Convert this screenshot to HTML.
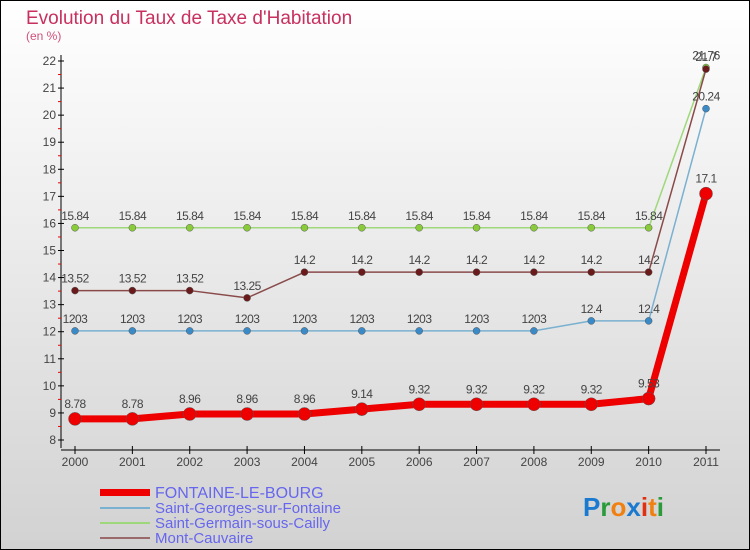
<!DOCTYPE html>
<html><head><meta charset="utf-8"><style>
body{margin:0;}
svg{display:block;font-family:"Liberation Sans",sans-serif;}
</style></head><body>
<svg id="c" width="750" height="550" viewBox="0 0 750 550">
<defs><linearGradient id="bg" x1="0" y1="0" x2="0" y2="1"><stop offset="0" stop-color="#ffffff"/><stop offset="1" stop-color="#d2d2d2"/></linearGradient></defs>
<rect x="0.5" y="0.5" width="749" height="549" fill="url(#bg)" stroke="#000"/>
<text x="26" y="24" font-size="19" fill="#c8305f">Evolution du Taux de Taxe d'Habitation</text>
<text x="26" y="40" font-size="12" fill="#d0507a">(en %)</text>
<g id="axes"></g>
<g id="series"></g>
<g id="legend">
<rect x="100" y="489" width="50" height="7" fill="#e00"/>
<text x="155" y="498" font-size="16" fill="#6666ee">FONTAINE-LE-BOURG</text>
<rect x="100" y="507" width="50" height="2" fill="#7ab0d0"/>
<text x="155" y="513" font-size="15" fill="#6666ee">Saint-Georges-sur-Fontaine</text>
<rect x="100" y="522" width="50" height="2" fill="#9ed87a"/>
<text x="155" y="528" font-size="15" fill="#6666ee">Saint-Germain-sous-Cailly</text>
<rect x="100" y="537" width="50" height="2" fill="#9a6a6a"/>
<text x="155" y="543" font-size="15" fill="#6666ee">Mont-Cauvaire</text>
</g>
<text x="583" y="516" font-size="26" font-weight="bold"><tspan fill="#1a7ad0">P</tspan><tspan fill="#2a9a3a">r</tspan><tspan fill="#f08010">o</tspan><tspan fill="#1a7ad0">x</tspan><tspan fill="#e03010">i</tspan><tspan fill="#f08010">t</tspan><tspan fill="#2a9a3a">i</tspan></text>
</svg>
<script>
const years=[2000,2001,2002,2003,2004,2005,2006,2007,2008,2009,2010,2011];
const yTicks=[8,9,10,11,12,13,14,15,16,17,18,19,20,21,22];
const fontaine=[8.78,8.78,8.96,8.96,8.96,9.14,9.32,9.32,9.32,9.32,9.53,17.1];
const stGeorges=[12.03,12.03,12.03,12.03,12.03,12.03,12.03,12.03,12.03,12.4,12.4,20.24];
const stGermain=[15.84,15.84,15.84,15.84,15.84,15.84,15.84,15.84,15.84,15.84,15.84,21.76];
const montCauvaire=[13.52,13.52,13.52,13.25,14.2,14.2,14.2,14.2,14.2,14.2,14.2,21.7];
const NS="http://www.w3.org/2000/svg";
const X=i=>75+i*(706-75)/11;
const Y=v=>440-(v-8)*(440-61)/14;
function mk(tag,attrs,parent){const e=document.createElementNS(NS,tag);for(const k in attrs)e.setAttribute(k,attrs[k]);parent.appendChild(e);return e;}
const ax=document.getElementById('axes');
let l=mk('line',{x1:61,y1:55,x2:61,y2:448,stroke:'#000'},ax);


l=mk('line',{x1:61,y1:450,x2:720,y2:450,stroke:'#000'},ax);


yTicks.forEach((t,i)=>{
 mk('line',{x1:58,y1:Y(t),x2:64,y2:Y(t),stroke:'#000'},ax);
 if(i<yTicks.length-1) mk('line',{x1:58,y1:Y(t+0.5),x2:61,y2:Y(t+0.5),stroke:'#e00'},ax);
 const tx=mk('text',{x:56,y:Y(t)+4,'font-size':12,fill:'#444','text-anchor':'end'},ax);
 tx.textContent=t;
 
 
});
years.forEach((yr,i)=>{
 mk('line',{x1:X(i),y1:446,x2:X(i),y2:454,stroke:'#000'},ax);
 const tx=mk('text',{x:X(i),y:466,'font-size':12,fill:'#444','text-anchor':'middle'},ax);
 tx.textContent=yr;
 
 
});
const sg=document.getElementById('series');
function series(vals,name,color,w,r,fill,lblDy){
 const g=mk('g',{},sg);
 
 
 const p=mk('polyline',{points:vals.map((v,i)=>X(i)+','+Y(v)).join(' '),fill:'none',stroke:color,'stroke-width':w,'stroke-linejoin':'round'},g);
 
 
 vals.forEach((v,i)=>{
  const c=mk('circle',{cx:X(i),cy:Y(v),r:r,fill:fill,stroke:'#555','stroke-width':0.5},g);
  
  
  const t=mk('text',{x:X(i),y:Y(v)+lblDy,'font-size':12,fill:'#444','text-anchor':'middle','letter-spacing':'-0.5'},g);
  t.textContent=String(v).replace('12.03','1203');
  
  
 });
}
series(stGermain,'saint-germain','#9ed87a',1.5,3.5,'#8acb3a',-8);
series(stGeorges,'saint-georges','#7ab0d0',1.5,3.5,'#3a8ac8',-8);
series(montCauvaire,'mont-cauvaire','#8a4a4a',1.5,3.5,'#6a1a1a',-8);
series(fontaine,'fontaine','#ee0000',7,6.5,'#ee0000',-11);
</script>
</body></html>
